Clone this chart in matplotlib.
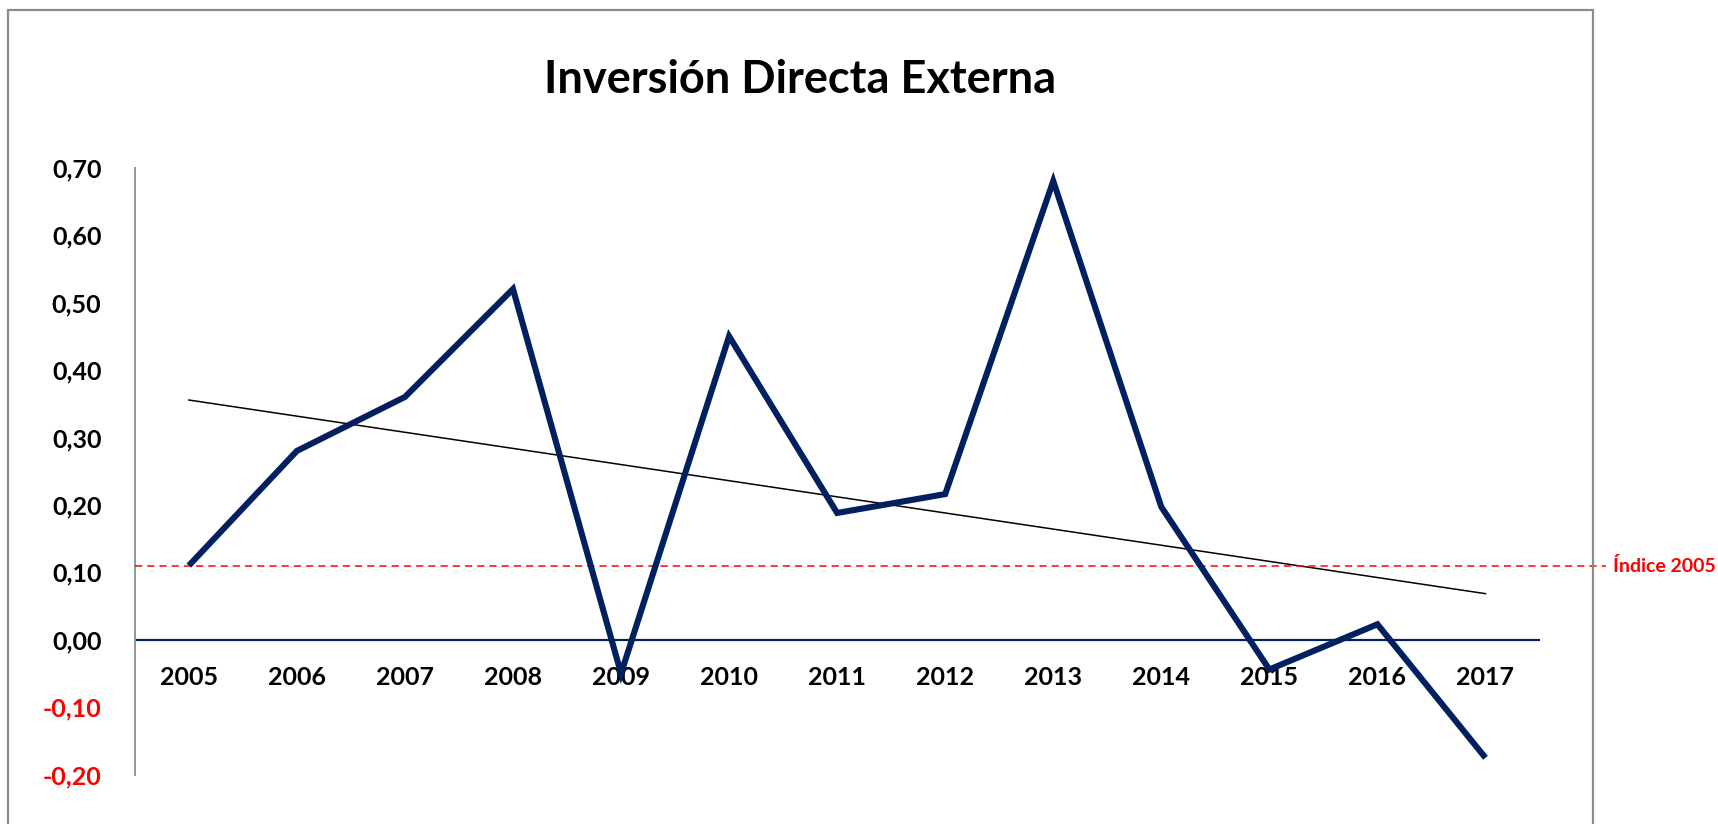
import numpy as np
import matplotlib
matplotlib.use("Agg")
import matplotlib.pyplot as plt
from matplotlib.patches import Rectangle
from matplotlib import transforms

years = ["2005", "2006", "2007", "2008", "2009", "2010", "2011",
         "2012", "2013", "2014", "2015", "2016", "2017"]
values = [0.11, 0.28, 0.36, 0.52, -0.05, 0.45, 0.188,
          0.216, 0.68, 0.197, -0.044, 0.023, -0.175]
index_2005 = 0.11
title = "Inversión Directa Externa"
index_label = "Índice 2005"
yticks = [-0.2, -0.1, 0.0, 0.1, 0.2, 0.3, 0.4, 0.5, 0.6, 0.7]

plt.rcParams['font.family'] = ['Lato', 'DejaVu Sans']

W, H = 1718, 824
fig = plt.figure(figsize=(W / 100, H / 100), dpi=100)
ax = fig.add_axes([134.8 / W, 1 - 774.7 / H, (1539.5 - 134.8) / W, (774.7 - 167.6) / H])

# outer frame
fig.patches.append(Rectangle((8 / W, -0.1), (1593 - 8) / W, 1.1 - 10 / H,
                             transform=fig.transFigure, fill=False,
                             edgecolor='#8c8c8c', linewidth=1.6, clip_on=False))

x = np.arange(len(years))
navy = '#002060'

ax.axhline(0, color=navy, linewidth=1.6, zorder=2)
ax.plot(x, values, color=navy, linewidth=4.4, solid_joinstyle='miter',
        solid_capstyle='butt', zorder=4)

# linear trend
coef = np.polyfit(x, values, 1)
ax.plot([x[0], x[-1]], np.polyval(coef, [x[0], x[-1]]), color='black',
        linewidth=1.1, zorder=3)

# index 2005 dashed line extending beyond axes
ax.plot([-0.5, 13.12], [index_2005, index_2005], color='#ff0000', linewidth=1.1,
        dashes=(4.7, 3.3), clip_on=False, zorder=3)
ax.text(13.18, index_2005, index_label, color='#ff0000', fontsize=14,
        fontweight='bold', va='center', ha='left', clip_on=False)

ax.set_xlim(-0.5, len(years) - 0.5)
ax.set_ylim(-0.2, 0.7)
ax.set_yticks(yticks)
ax.set_yticklabels([f"{v:.2f}".replace('.', ',') for v in yticks])
for lbl, v in zip(ax.get_yticklabels(), yticks):
    lbl.set_color('#ff0000' if v < 0 else 'black')
    lbl.set_fontweight('bold')
    lbl.set_fontsize(18)
ax.tick_params(axis='y', length=0, pad=24)
ax.set_xticks([])

for s in ['top', 'right', 'bottom']:
    ax.spines[s].set_visible(False)
ax.spines['left'].set_color('#8c8c8c')
ax.spines['left'].set_linewidth(1.3)

off = transforms.offset_copy(ax.transData, fig=fig, x=0, y=-38, units='dots')
for xi, lab in zip(x, years):
    ax.text(xi, 0, lab, transform=off, ha='center', va='center',
            fontsize=18, fontweight='bold', color='black', zorder=1)

fig.text(800 / W, 1 - 80 / H, title, ha='center', va='center',
         fontsize=32.5, fontweight='bold', color='black')

fig.savefig('out.png', dpi=100, facecolor='white')
